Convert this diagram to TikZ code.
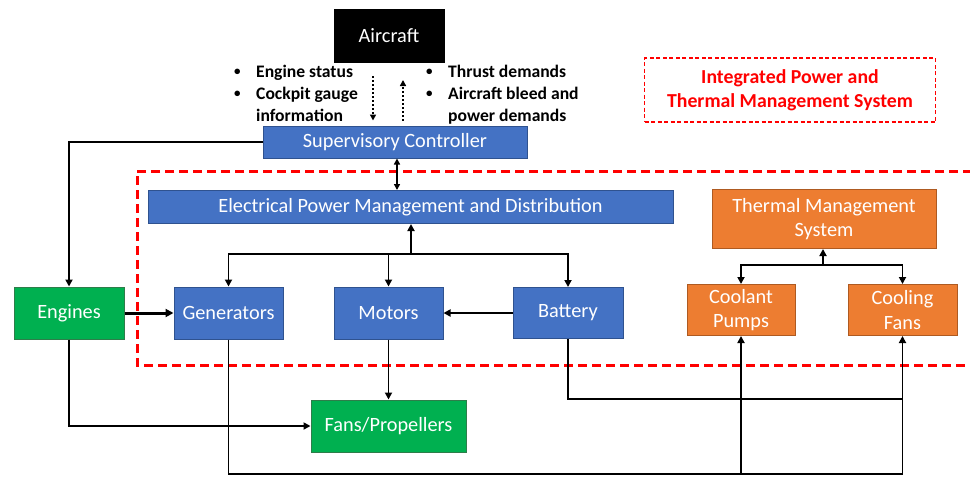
\documentclass[tikz,border=0pt]{standalone}
\usepackage{fontspec}
\setmainfont{Carlito}
\usetikzlibrary{arrows.meta}
\definecolor{bfill}{HTML}{4472C4}
\definecolor{bline}{HTML}{2F528F}
\definecolor{gfill}{HTML}{00B050}
\definecolor{gline}{HTML}{2E7D4A}
\definecolor{ofill}{HTML}{ED7D31}
\definecolor{oline}{HTML}{AE5A21}
\definecolor{rline}{HTML}{FF0000}
\newcommand{\smbul}{\makebox[23pt][l]{\hspace{1pt}\raisebox{2pt}{\fontsize{13}{13}\selectfont\textbullet}}}
\tikzset{
  box/.style={draw, line width=1pt, text=white, inner sep=0pt, align=center,
    font=\fontsize{20.3}{24.5}\selectfont},
  bluebox/.style={box, fill=bfill, draw=bline},
  greenbox/.style={box, fill=gfill, draw=gline},
  orangebox/.style={box, fill=ofill, draw=oline},
  conn/.style={line width=1.8pt, -{Triangle[length=7pt,width=7pt]}},
  plain/.style={line width=1.8pt},
  dotarrow/.style={line width=2pt, dotted, -{Triangle[length=6pt,width=6pt]}},
  bullets/.style={inner sep=0pt, anchor=north west, font=\fontsize{17.6}{22}\selectfont\bfseries},
}
\begin{document}
\begin{tikzpicture}[x=1pt,y=-1pt]
\useasboundingbox (0,0) rectangle (970,477);
\fill[white] (0,0) rectangle (970,477);
\begin{scope}
\clip (0,0) rectangle (970,477);
\draw[rline, line width=3pt, dash pattern=on 9pt off 5pt] (1000,171) -- (137,171) -- (137,365) -- (1000,365);
\end{scope}

\node[box, fill=black, draw=black, minimum width=110pt, minimum height=53pt] (aircraft) at (389,36) {Aircraft};
\node[bluebox, minimum width=264pt, minimum height=32pt] (sup) at (395,142) {Supervisory Controller};
\node[bluebox, minimum width=525pt, minimum height=33pt] (epmd) at (410.5,207) {Electrical Power Management and Distribution};
\node[orangebox, minimum width=224pt, minimum height=59pt] (tms) at (824,219) {Thermal Management\\System};
\node[greenbox, minimum width=110pt, minimum height=52pt] (eng) at (69,313) {Engines};
\node[bluebox, minimum width=109pt, minimum height=52pt] (gen) at (228.5,313) {Generators};
\node[bluebox, minimum width=109pt, minimum height=52pt] (mot) at (388.5,313) {Motors};
\node[bluebox, minimum width=110pt, minimum height=51pt] (bat) at (568,313) {Battery};
\node[orangebox, minimum width=108pt, minimum height=51pt] (cp) at (741,310) {Coolant\\Pumps};
\node[orangebox, minimum width=109pt, minimum height=51pt] (cf) at (902.5,310) {Cooling\\Fans};
\node[greenbox, minimum width=155pt, minimum height=52pt] (fans) at (388.5,426) {Fans/Propellers};
\node[draw=rline, line width=1.5pt, dash pattern=on 4pt off 2.5pt, text=rline, align=center,
  font=\fontsize{19.8}{24}\selectfont\bfseries, minimum width=291pt, minimum height=64pt] (label) at (790,90)
  {Integrated Power and\\Thermal Management System};

\node[bullets] (lb) at (233,62) {\begin{tabular}{@{}l@{}l@{}}\smbul & Engine status\\ \smbul & Cockpit gauge\\ & information\end{tabular}};
\node[bullets] (rb) at (425,62) {\begin{tabular}{@{}l@{}l@{}}\smbul & Thrust demands\\ \smbul & Aircraft bleed and\\ & power demands\end{tabular}};

\coordinate (d1) at (373,0);
\coordinate (d2) at (403,0);
\draw[dotarrow, shorten <=13pt, shorten >=5pt] (aircraft.south -| d1) -- (sup.north -| d1);
\draw[dotarrow, shorten <=5pt, shorten >=17pt] (sup.north -| d2) -- (aircraft.south -| d2);

\coordinate (sx) at (397,0);
\draw[line width=1.8pt, {Triangle[length=6pt,width=6pt]}-{Triangle[length=6pt,width=6pt]}] (sup.south -| sx) -- (epmd.north -| sx);

\coordinate (bus) at (411,254);
\draw[conn] (bus) -- (bus |- epmd.south);
\draw[conn] (bus) -| (gen.north);
\draw[conn] (bus) -| (bat.north);
\draw[conn] (mot.north |- bus) -- (mot.north);

\coordinate (tbus) at (823,265);
\draw[conn] (tbus) -- (tbus |- tms.south);
\draw[conn] (tbus) -| (cp.north);
\draw[conn] (tbus) -| (cf.north);

\draw[conn] (sup.west) -| (eng.north);
\draw[line width=3pt, -{Triangle[length=8pt,width=8pt]}] (eng.east) -- (gen.west);
\draw[conn] (eng.south) |- (fans.west);
\draw[conn] (mot.south) -- (fans.north);
\draw[conn] (bat.west) -- (mot.east);

\coordinate (gb) at (0,474);
\coordinate (bb) at (0,399);
\draw[conn] (gen.south) |- (cf.south |- gb) -- (cf.south);
\draw[conn] (cp.south |- gb) -- (cp.south);
\draw[plain] (bat.south) |- (cf.south |- bb);
\end{tikzpicture}
\end{document}
